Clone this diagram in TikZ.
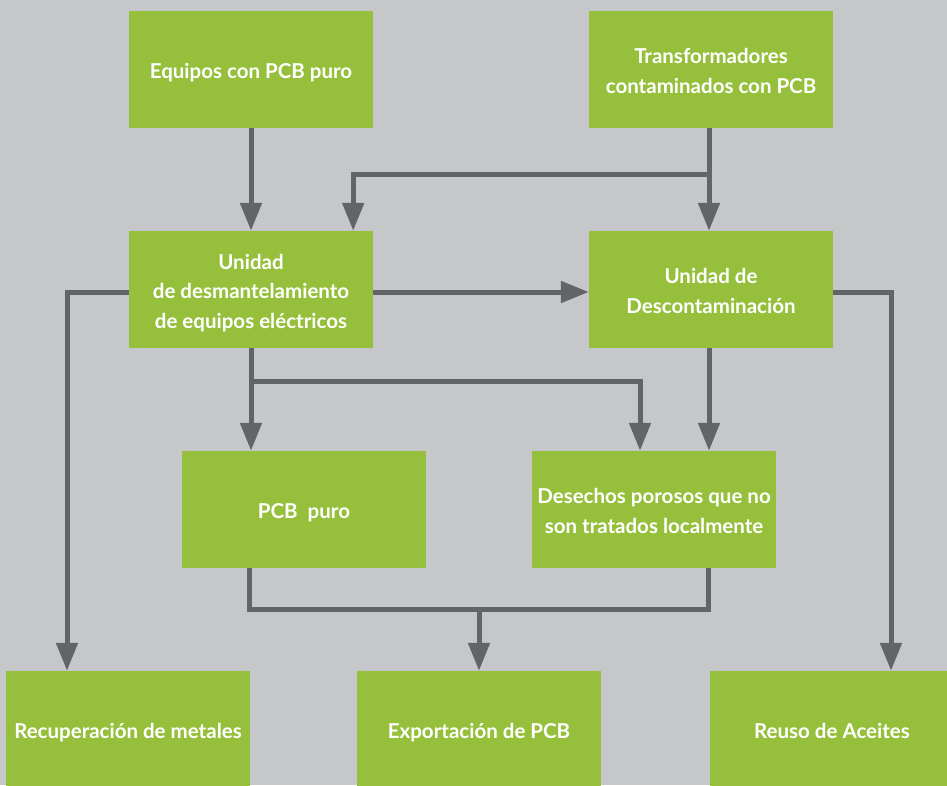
\documentclass[tikz,border=0pt]{standalone}
\usepackage{fontspec}
\setmainfont{Lato}
\usetikzlibrary{arrows.meta}
\definecolor{bggrey}{HTML}{C6C7C9}
\definecolor{boxgreen}{HTML}{96C03C}
\definecolor{arrowgrey}{HTML}{636466}
\newcommand\bxstrut{\rule[-5pt]{0pt}{28pt}}
\tikzset{
  box/.style={fill=boxgreen, draw=none, minimum width=244pt, minimum height=117pt,
    inner sep=0pt, align=center, text=white,
    font=\fontsize{20.5}{29.5}\selectfont\bfseries},
  conn/.style={draw=arrowgrey, line width=5pt},
  arr/.style={conn, -{Triangle[width=21pt,length=28pt]}},
}
\begin{document}
\begin{tikzpicture}[x=1pt,y=-1pt]
\fill[bggrey] (0,0) rectangle (947,785);
\useasboundingbox (0,0) rectangle (947,785);
\begin{scope}
\clip (0,0) rectangle (947,785);
\node[box] (b1) at (251,69.5) {\bxstrut Equipos con PCB puro};
\node[box] (b2) at (711,69.5) {\bxstrut Transformadores\\contaminados con PCB\bxstrut};
\node[box] (b3) at (251,289.5) {\bxstrut Unidad\\de desmantelamiento\\de equipos eléctricos\bxstrut};
\node[box] (b4) at (711,289.5) {\bxstrut Unidad de\\Descontaminación\bxstrut};
\node[box] (b5) at (304,509.5) {\bxstrut PCB\ \ puro};
\node[box] (b6) at (654,509.5) {\bxstrut Desechos porosos que no\\son tratados localmente\bxstrut};
\node[box] (b7) at (128,729.5) {\bxstrut Recuperación de metales};
\node[box] (b8) at (479,729.5) {\bxstrut Exportación de PCB};
\node[box] (b9) at (832,729.5) {\bxstrut Reuso de Aceites};
\end{scope}
% top arrows
\draw[arr] (b1.south) -- (b3.north);
\draw[arr] ([xshift=-2pt]b2.south) -- ([xshift=-2pt]b4.north);
\coordinate (j1) at ([xshift=-2pt]b2.south |- 0,174);
\draw[arr] (j1) -| ([xshift=-20pt]b3.north east);
% middle row
\draw[arr] ([yshift=-2.5pt]b3.east) -- ([yshift=-2.5pt]b3.east -| b4.west);
\draw[arr] ([yshift=-2.5pt]b3.west) -| ([xshift=-61pt]b7.north);
\draw[arr] ([yshift=-2.5pt]b4.east) -| ([xshift=59pt]b9.north);
% lower
\draw[arr] (b3.south) -- (b3.south |- b5.north);
\coordinate (j2) at (b3.south |- 0,381);
\draw[arr] (j2) -| ([xshift=-14pt]b6.north);
\draw[arr] ([xshift=-2pt]b4.south) -- ([xshift=-2pt]b4.south |- b6.north);
% bottom join
\coordinate (j3) at (b8.north |- 0,609);
\draw[conn, line join=miter] ([xshift=-55pt]b5.south) |- (j3) -| ([xshift=54pt]b6.south);
\draw[arr] (j3) -- (b8.north);
\end{tikzpicture}
\end{document}
